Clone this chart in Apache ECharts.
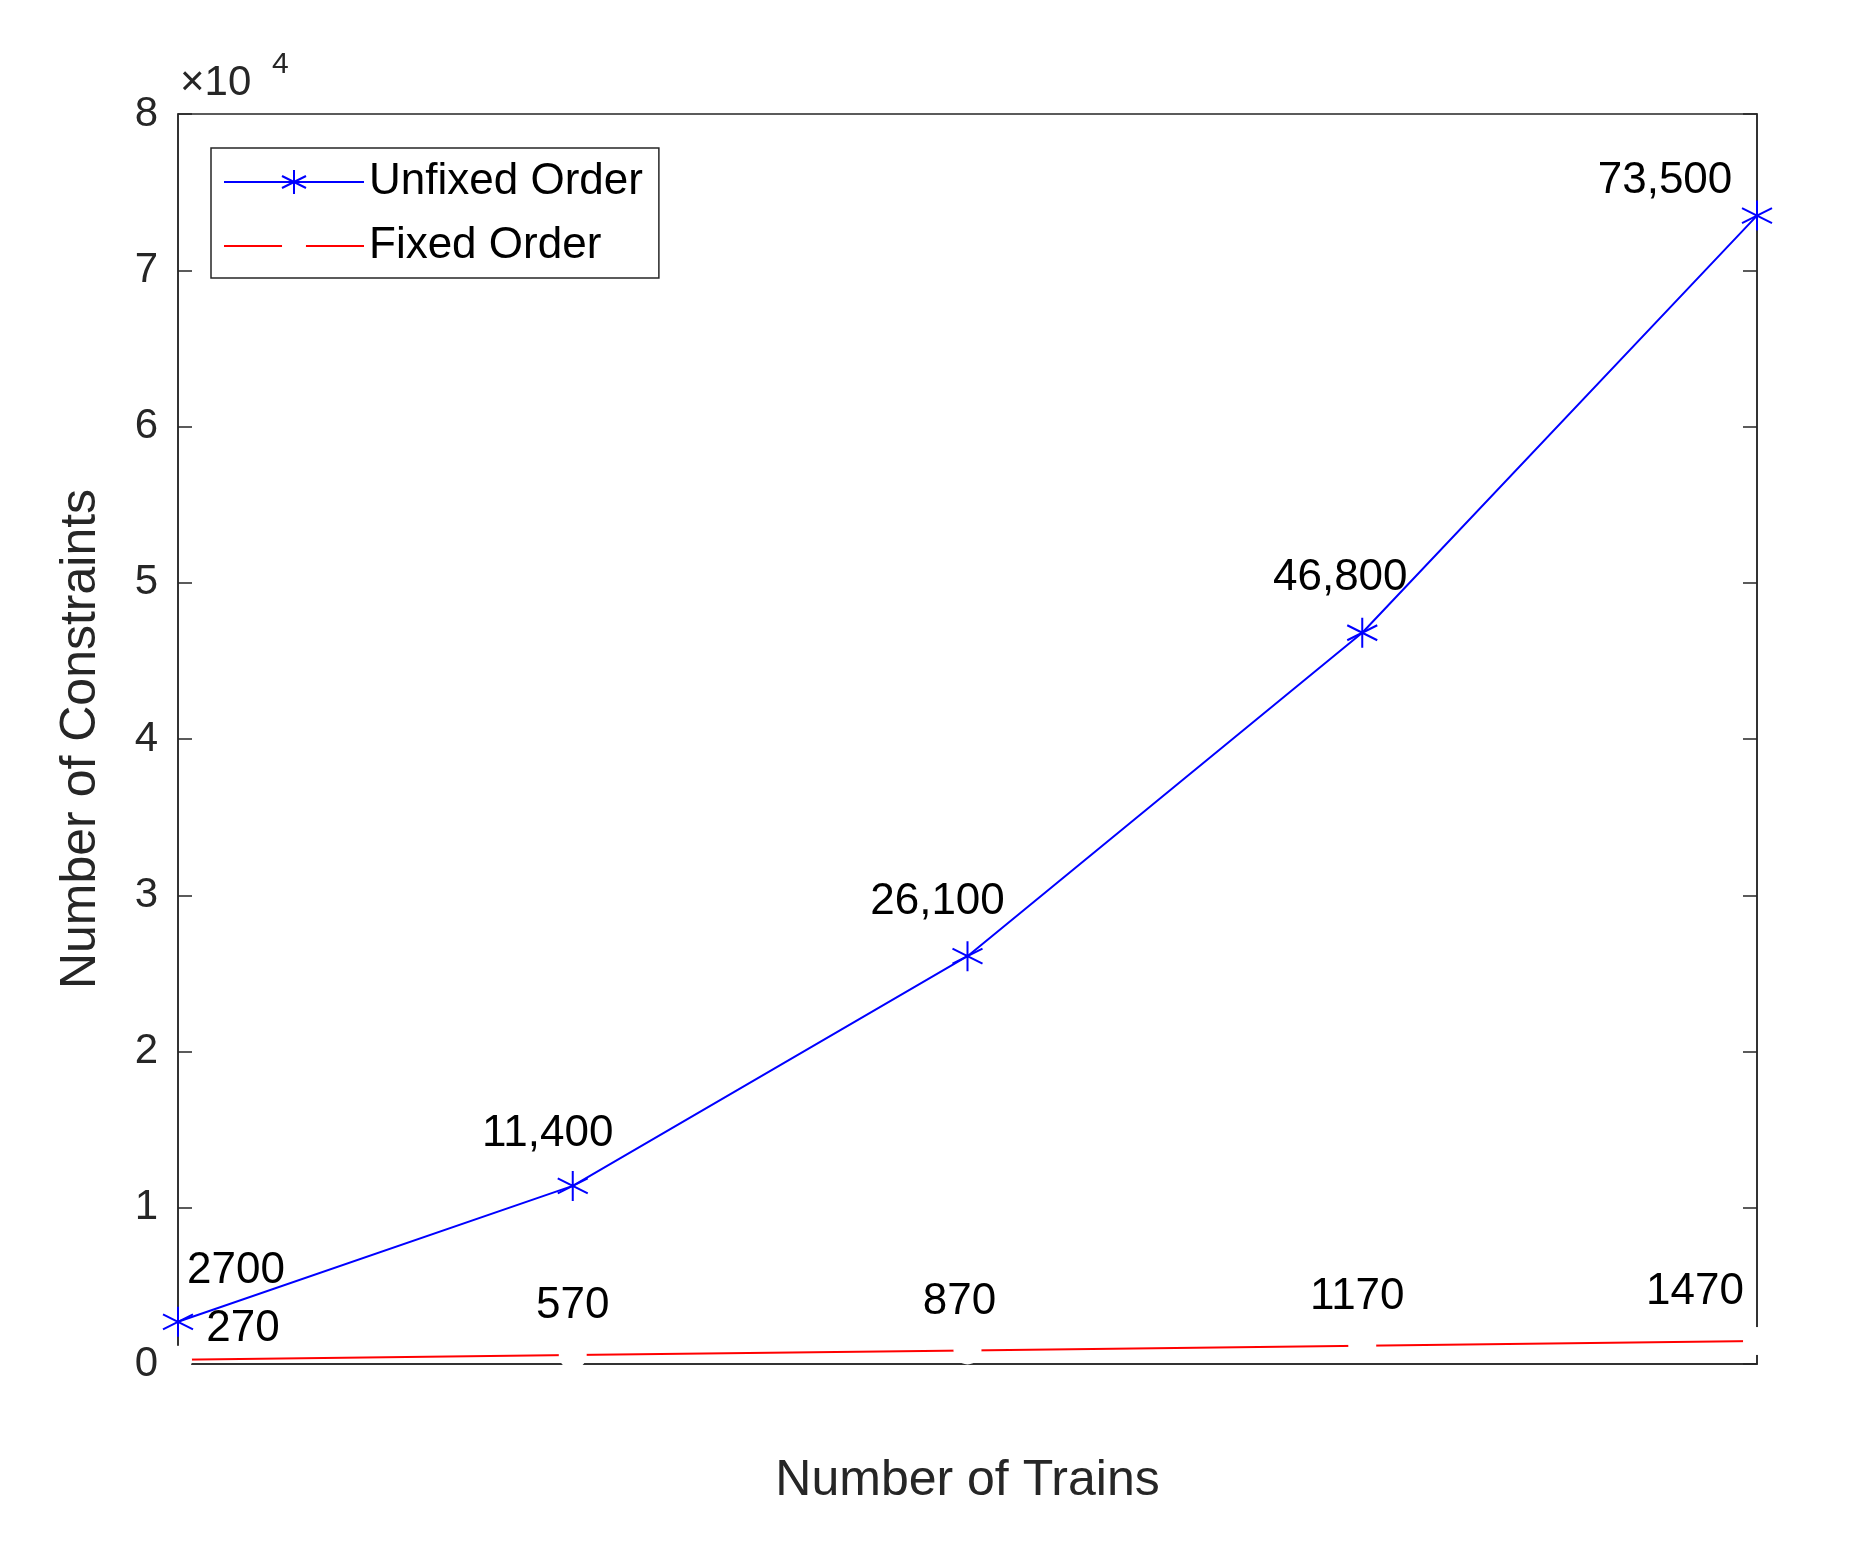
<!DOCTYPE html>
<html><head><meta charset="utf-8">
<script src="https://cdn.jsdelivr.net/npm/echarts@6/dist/echarts.min.js"></script>
<style>html,body{margin:0;background:#fff}#c{width:1868px;height:1548px}</style>
</head><body><div id="c"></div>
<script>
let trains = [0, 1, 2, 3, 4];
let unfixed = [2700, 11400, 26100, 46800, 73500];
let fixed = [270, 570, 870, 1170, 1470];
let unfixedText = ['2700', '11,400', '26,100', '46,800', '73,500'];
let fixedText = ['270', '570', '870', '1170', '1470'];

// label offsets, kept apart from the values
let unfixedOff = [[58, -6], [-25, -8], [-30, -10], [-22, -10], [-92, 10]];
let fixedOff = [[65, 10], [0, -8], [-8, -8], [-5, -8], [-62, -8]];

let star = 'path://M0,-10L0,10M-8.66,-5L8.66,5M-8.66,5L8.66,-5';
let font = 'Arial, "Liberation Sans", sans-serif';

let option = {
    animation: false,
    textStyle: {fontFamily: font},
    grid: {left: 178, right: 111, top: 114, bottom: 184, show: true, borderColor: '#262626', borderWidth: 1.5},
    legend: {
        left: 211, top: 148, orient: 'vertical',
        borderColor: '#262626', borderWidth: 1.5, padding: [12, 16, 10, 12],
        itemWidth: 140, itemHeight: 30, itemGap: 20,
        textStyle: {fontSize: 44, color: '#000', fontFamily: font},
        data: ['Unfixed Order', 'Fixed Order']
    },
    graphic: [{
        type: 'text', left: 180, top: 62,
        style: {text: '×10', fontSize: 42, fill: '#262626', fontFamily: font}
    }, {
        type: 'text', left: 272, top: 50,
        style: {text: '4', fontSize: 30, fill: '#262626', fontFamily: font}
    }],
    xAxis: {
        type: 'value', min: 0, max: 4, interval: 1,
        name: 'Number of Trains', nameLocation: 'middle', nameGap: 92,
        nameTextStyle: {fontSize: 50, color: '#262626'},
        axisLine: {lineStyle: {color: '#262626', width: 1.5}},
        axisTick: {show: false}, axisLabel: {show: false}, splitLine: {show: false}
    },
    yAxis: [{
        type: 'value', min: 0, max: 80000, interval: 10000,
        name: 'Number of Constraints', nameLocation: 'middle', nameGap: 72,
        nameTextStyle: {fontSize: 50, color: '#262626'},
        axisLine: {show: true, lineStyle: {color: '#262626', width: 1.5}},
        axisTick: {inside: true, length: 14, lineStyle: {color: '#262626', width: 1.5}},
        axisLabel: {fontSize: 42, color: '#262626', margin: 20, formatter: v => v / 10000},
        splitLine: {show: false}
    }, {
        type: 'value', min: 0, max: 80000, interval: 10000, position: 'right',
        axisLine: {show: true, lineStyle: {color: '#262626', width: 1.5}},
        axisTick: {inside: true, length: 14, lineStyle: {color: '#262626', width: 1.5}},
        axisLabel: {show: false}, splitLine: {show: false}
    }],
    series: [{
        name: 'Unfixed Order', type: 'line',
        data: trains.map((x, i) => ({
            value: [x, unfixed[i]],
            label: {show: true, position: 'top', offset: unfixedOff[i], formatter: unfixedText[i]}
        })),
        symbol: star, symbolSize: 30,
        lineStyle: {color: '#0000ff', width: 2},
        itemStyle: {color: 'none', borderColor: '#0000ff', borderWidth: 2},
        label: {fontSize: 44, color: '#000'},
        z: 3
    }, {
        name: 'Fixed Order', type: 'line',
        data: trains.map((x, i) => ({
            value: [x, fixed[i]],
            label: {show: true, position: 'top', offset: fixedOff[i], formatter: fixedText[i]}
        })),
        symbol: 'emptyCircle', symbolSize: 28,
        lineStyle: {color: '#ff0000', width: 2},
        itemStyle: {color: 'none', borderColor: '#ff0000', borderWidth: 2},
        label: {fontSize: 44, color: '#000'}
    }]
};

let chart = echarts.init(document.getElementById('c'));
chart.setOption(option);
</script></body></html>
